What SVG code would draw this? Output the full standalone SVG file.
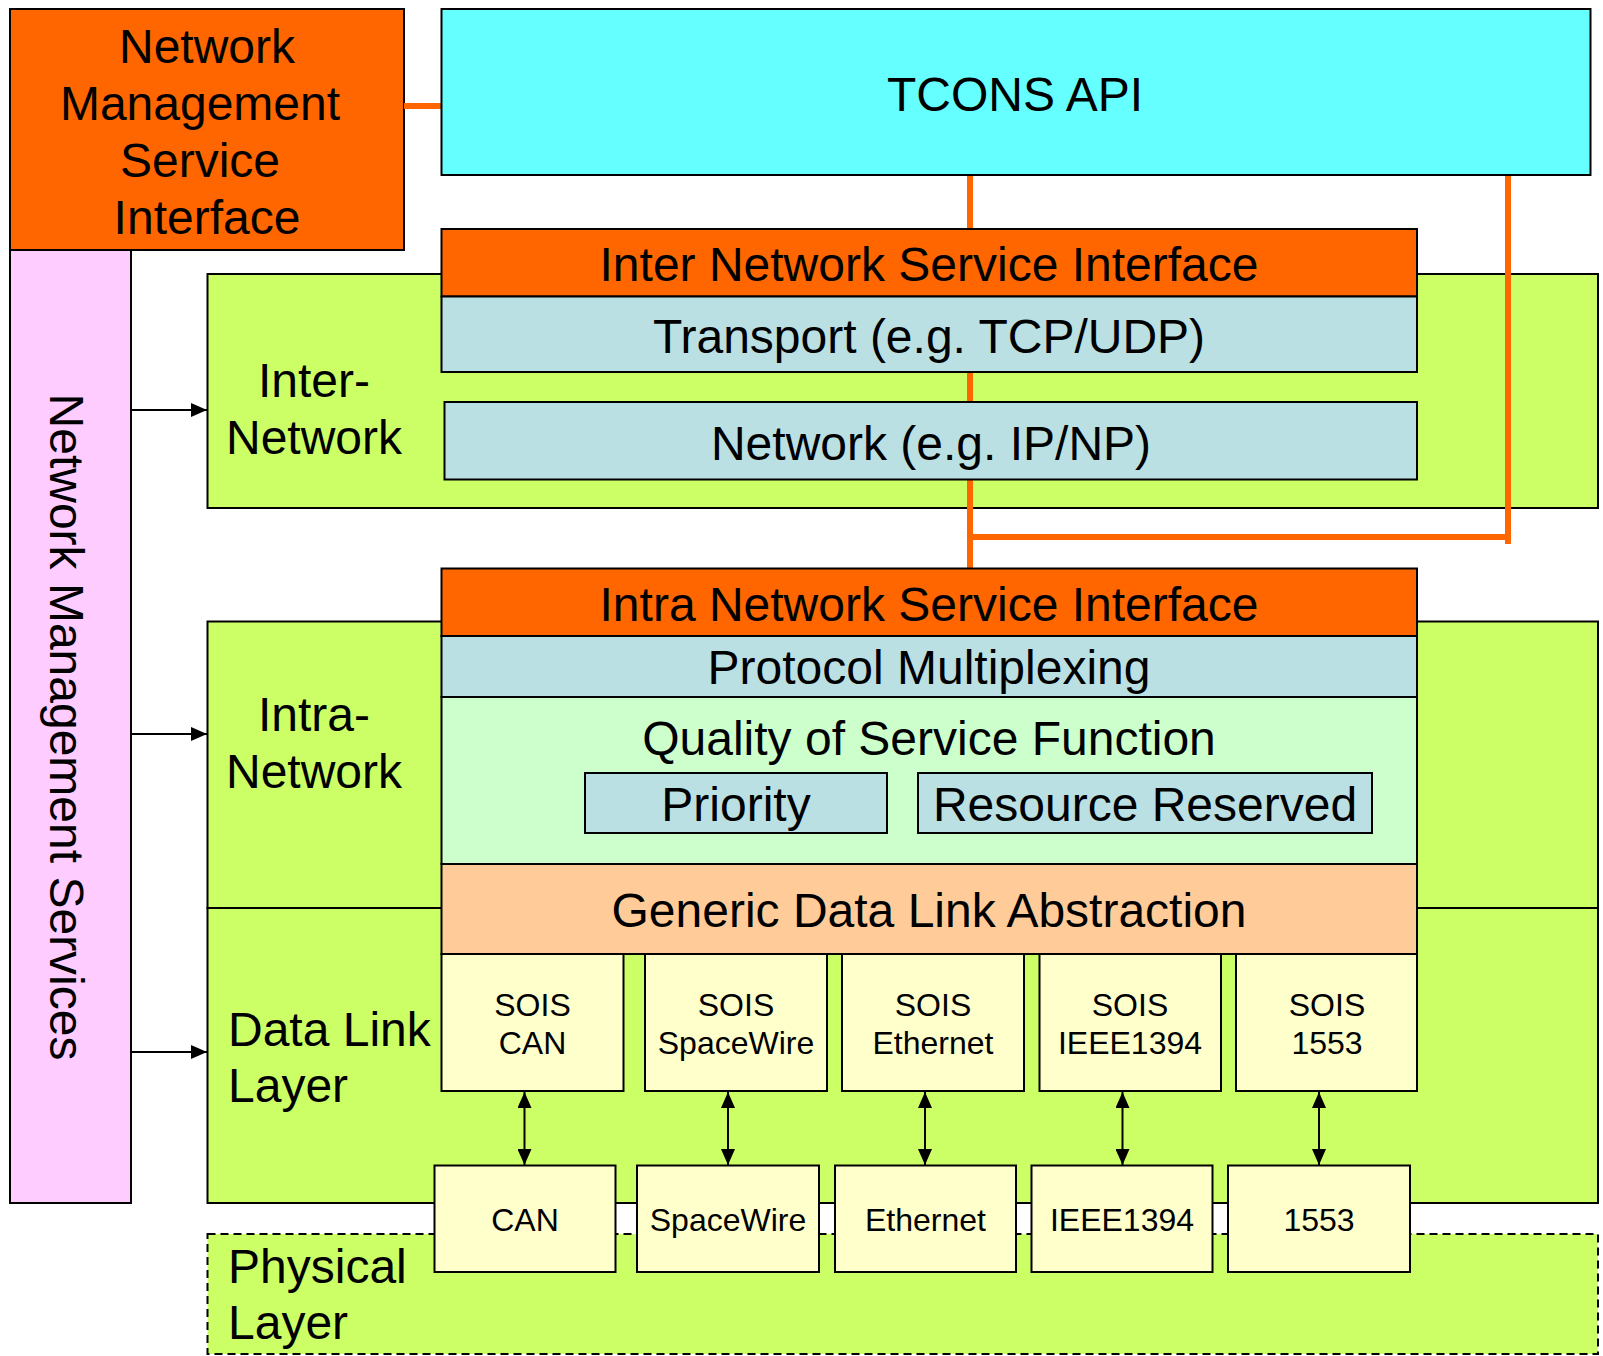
<svg xmlns="http://www.w3.org/2000/svg" width="1603" height="1356" viewBox="0 0 1603 1356">
<style>
text{font-family:"Liberation Sans",Arial,sans-serif;fill:#000}
.b{stroke:#000;stroke-width:2}
.t48{font-size:48px}
.t32{font-size:32px}
.c{text-anchor:middle}
.or{fill:#FF6600}
.gr{fill:#CCFF66}
.bl{fill:#BBE0E3}
.ye{fill:#FFFFCC}
.ol{stroke:#FF6600;stroke-width:6;fill:none}
.al{stroke:#000;stroke-width:2;fill:none}
</style>
<defs>
<marker id="ah" viewBox="0 0 16 14" refX="16" refY="7" markerWidth="16" markerHeight="14" orient="auto-start-reverse" markerUnits="userSpaceOnUse"><path d="M0,0 L16,7 L0,14 z" fill="#000"/></marker>
</defs>
<rect width="1603" height="1356" fill="#fff"/>

<g id="layer-inter">
<rect class="gr b" x="207.5" y="274" width="1390.5" height="234"/>
<text class="t48 c" x="314" y="397">Inter-</text>
<text class="t48 c" x="314" y="454">Network</text>
</g>
<g id="layer-intra">
<rect class="gr b" x="207.5" y="621.5" width="1390.5" height="286.5"/>
<text class="t48 c" x="314" y="731">Intra-</text>
<text class="t48 c" x="314" y="788">Network</text>
</g>
<g id="layer-datalink">
<rect class="gr b" x="207.5" y="908" width="1390.5" height="295"/>
<text class="t48" x="228" y="1046">Data Link</text>
<text class="t48" x="228" y="1102">Layer</text>
</g>
<g id="layer-physical">
<rect class="gr" x="207.5" y="1234" width="1390.5" height="120" stroke="#000" stroke-width="2" stroke-dasharray="8,5"/>
<text class="t48" x="228" y="1283">Physical</text>
<text class="t48" x="228" y="1339">Layer</text>
</g>

<g id="nms">
<rect class="b" x="10" y="250" width="121" height="953" fill="#FFCCFF"/>
<text class="t48 c" transform="translate(66,727) rotate(90)" x="0" y="16">Network Management Services</text>
</g>

<g id="nmsi">
<rect class="or b" x="10" y="9" width="394" height="241"/>
<text class="t48 c" x="207" y="63">Network</text>
<text class="t48 c" x="200" y="120">Management</text>
<text class="t48 c" x="200" y="177">Service</text>
<text class="t48 c" x="207" y="234">Interface</text>
</g>

<g id="connectors">
<line class="ol" x1="404" y1="106" x2="441" y2="106"/>
<line class="ol" x1="970" y1="175" x2="970" y2="229"/>
<line class="ol" x1="970" y1="372" x2="970" y2="402"/>
<line class="ol" x1="970" y1="479" x2="970" y2="569"/>
<polyline class="ol" points="970,537 1508,537"/>
<line class="ol" x1="1508" y1="175" x2="1508" y2="544"/>
<line class="al" x1="131" y1="410" x2="207" y2="410" marker-end="url(#ah)"/>
<line class="al" x1="131" y1="734" x2="207" y2="734" marker-end="url(#ah)"/>
<line class="al" x1="131" y1="1052" x2="207" y2="1052" marker-end="url(#ah)"/>
<line class="al" x1="524.5" y1="1092" x2="524.5" y2="1165" marker-start="url(#ah)" marker-end="url(#ah)"/>
<line class="al" x1="728" y1="1092" x2="728" y2="1165" marker-start="url(#ah)" marker-end="url(#ah)"/>
<line class="al" x1="925" y1="1092" x2="925" y2="1165" marker-start="url(#ah)" marker-end="url(#ah)"/>
<line class="al" x1="1122.5" y1="1092" x2="1122.5" y2="1165" marker-start="url(#ah)" marker-end="url(#ah)"/>
<line class="al" x1="1319" y1="1092" x2="1319" y2="1165" marker-start="url(#ah)" marker-end="url(#ah)"/>
</g>

<g id="tcons">
<rect class="b" x="441.5" y="9" width="1149" height="166" fill="#66FFFF"/>
<text class="t48 c" x="1015" y="111">TCONS API</text>
</g>

<g id="inter-nsi">
<rect class="or b" x="441.5" y="229" width="975.5" height="67.5"/>
<text class="t48 c" x="929" y="281">Inter Network Service Interface</text>
</g>
<g id="transport">
<rect class="bl b" x="441.5" y="296.5" width="975.5" height="75.5"/>
<text class="t48 c" x="929" y="353">Transport (e.g. TCP/UDP)</text>
</g>
<g id="network">
<rect class="bl b" x="444.5" y="402" width="972.5" height="77.5"/>
<text class="t48 c" x="931" y="460">Network (e.g. IP/NP)</text>
</g>

<g id="intra-nsi">
<rect class="or b" x="441.5" y="568.5" width="975.5" height="67.5"/>
<text class="t48 c" x="929" y="621">Intra Network Service Interface</text>
</g>
<g id="protocol-mux">
<rect class="bl b" x="441.5" y="636" width="975.5" height="61"/>
<text class="t48 c" x="929" y="684">Protocol Multiplexing</text>
</g>
<g id="qos">
<rect class="b" x="441.5" y="697" width="975.5" height="167" fill="#CCFFCC"/>
<text class="t48 c" x="929" y="755">Quality of Service Function</text>
</g>
<g id="priority">
<rect class="bl b" x="585" y="773" width="302" height="60"/>
<text class="t48 c" x="736" y="821">Priority</text>
</g>
<g id="resource">
<rect class="bl b" x="918" y="773" width="454" height="60"/>
<text class="t48 c" x="1145" y="821">Resource Reserved</text>
</g>
<g id="gdla">
<rect class="b" x="441.5" y="864" width="975.5" height="90" fill="#FFCC99"/>
<text class="t48 c" x="929" y="927">Generic Data Link Abstraction</text>
</g>

<g id="sois-can">
<rect class="ye b" x="441.5" y="954" width="182" height="137"/>
<text class="t32 c" x="532.5" y="1016">SOIS</text>
<text class="t32 c" x="532.5" y="1054">CAN</text>
</g>
<g id="sois-spacewire">
<rect class="ye b" x="645" y="954" width="182" height="137"/>
<text class="t32 c" x="736" y="1016">SOIS</text>
<text class="t32 c" x="736" y="1054">SpaceWire</text>
</g>
<g id="sois-ethernet">
<rect class="ye b" x="842" y="954" width="182" height="137"/>
<text class="t32 c" x="933" y="1016">SOIS</text>
<text class="t32 c" x="933" y="1054">Ethernet</text>
</g>
<g id="sois-ieee1394">
<rect class="ye b" x="1039.5" y="954" width="181.5" height="137"/>
<text class="t32 c" x="1130" y="1016">SOIS</text>
<text class="t32 c" x="1130" y="1054">IEEE1394</text>
</g>
<g id="sois-1553">
<rect class="ye b" x="1236" y="954" width="181" height="137"/>
<text class="t32 c" x="1327" y="1016">SOIS</text>
<text class="t32 c" x="1327" y="1054">1553</text>
</g>

<g id="can">
<rect class="ye b" x="434.5" y="1165.5" width="181" height="106.5"/>
<text class="t32 c" x="525" y="1231">CAN</text>
</g>
<g id="spacewire">
<rect class="ye b" x="637" y="1165.5" width="182" height="106.5"/>
<text class="t32 c" x="728" y="1231">SpaceWire</text>
</g>
<g id="ethernet">
<rect class="ye b" x="835" y="1165.5" width="181" height="106.5"/>
<text class="t32 c" x="925.5" y="1231">Ethernet</text>
</g>
<g id="ieee1394">
<rect class="ye b" x="1031.5" y="1165.5" width="181" height="106.5"/>
<text class="t32 c" x="1122" y="1231">IEEE1394</text>
</g>
<g id="b1553">
<rect class="ye b" x="1228" y="1165.5" width="182" height="106.5"/>
<text class="t32 c" x="1319" y="1231">1553</text>
</g>
</svg>
